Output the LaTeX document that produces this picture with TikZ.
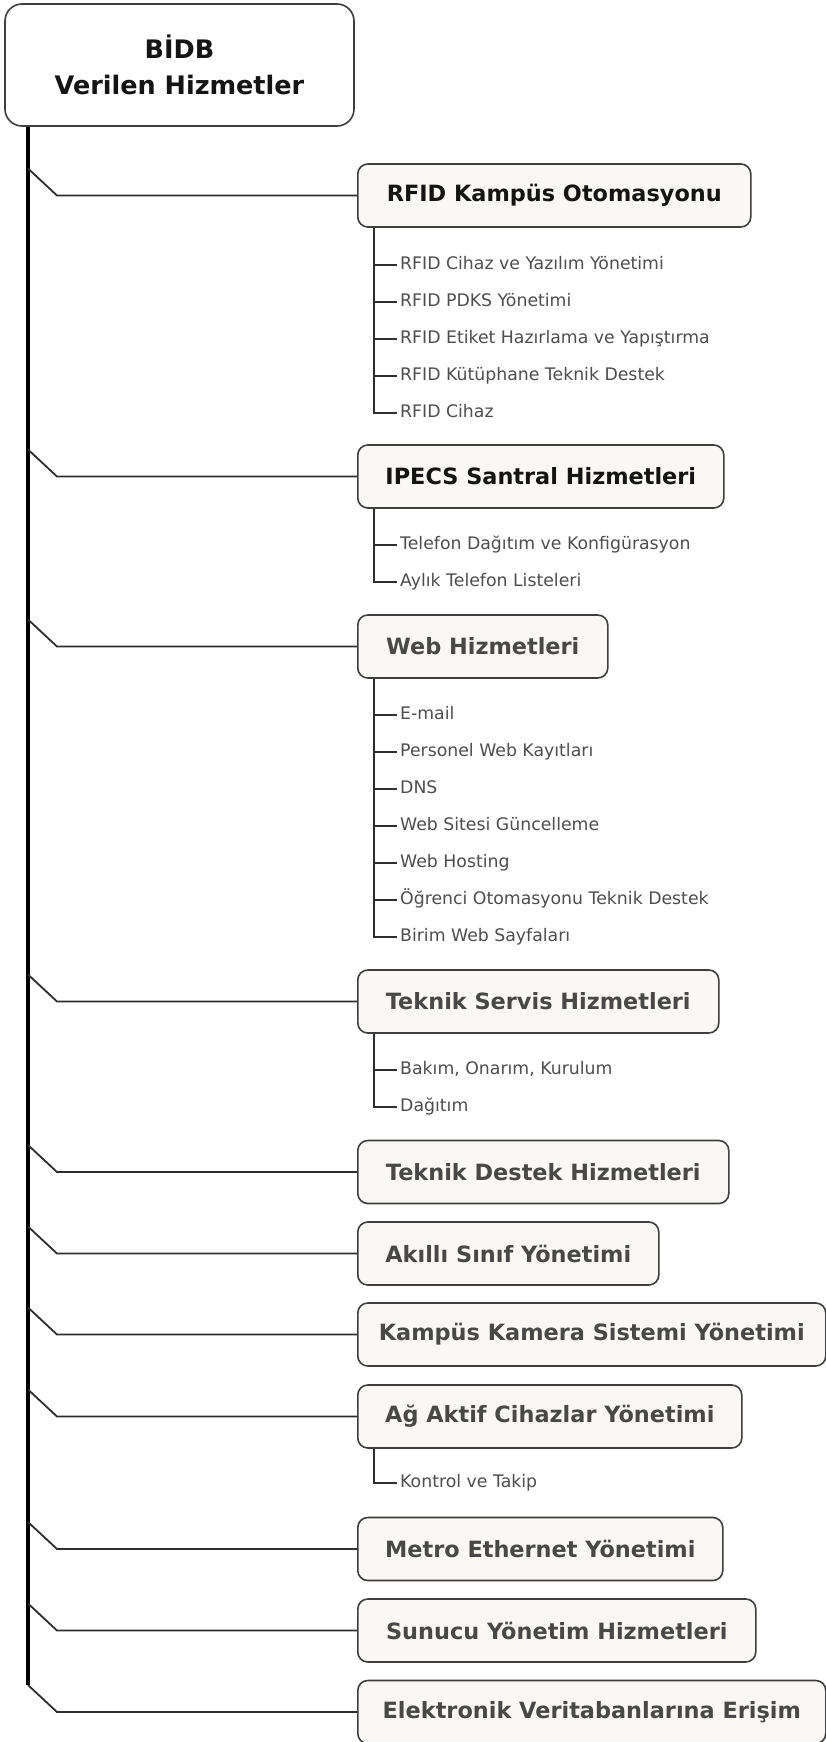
\documentclass[tikz,border=0pt]{standalone}
\usepackage{fontspec}
\setmainfont{DejaVu Sans}
\definecolor{boxfill}{HTML}{F9F8F4}
\definecolor{boxline}{HTML}{3E3E3E}
\definecolor{linegray}{HTML}{2E2E2E}
\definecolor{boxtext}{HTML}{484848}
\definecolor{darktext}{HTML}{141414}
\definecolor{leaftext}{HTML}{4D4D4D}
\tikzset{
  box/.style={draw=boxline, line width=1.6pt, fill=boxfill, rounded corners=10pt,
    minimum height=63pt, inner sep=0pt, anchor=west,
    font=\fontsize{22.4}{26}\selectfont\bfseries, text=boxtext},
  darkbox/.style={box, text=darktext},
  leaf/.style={anchor=west, inner sep=0pt, text height=12.5pt, text depth=3.3pt,
    font=\fontsize{17.3}{20}\selectfont, text=leaftext},
  trunk/.style={line width=3.6pt, draw=black},
  branch/.style={line width=1.8pt, draw=linegray, line join=miter},
  sub/.style={line width=1.5pt, draw=linegray},
}
\begin{document}
\begin{tikzpicture}[x=1pt,y=-1pt]
\useasboundingbox (0,0) rectangle (826,1742);

% root
\node[draw=boxline, line width=1.6pt, rounded corners=17pt, minimum width=349pt,
  minimum height=122pt, fill=white, align=center,
  font=\fontsize{25.5}{37}\selectfont\bfseries, text=darktext] (root) at (179.5,65)
  {BİDB\\[-1pt]Verilen Hizmetler};

% main boxes
\node[darkbox, minimum width=393pt] (b1) at (357,195.5) {RFID Kampüs Otomasyonu};
\node[darkbox, minimum width=366pt] (b2) at (357,476.5) {IPECS Santral Hizmetleri};
\node[box, minimum width=250pt] (b3) at (357,646.5) {Web Hizmetleri};
\node[box, minimum width=361pt] (b4) at (357,1001.5) {Teknik Servis Hizmetleri};
\node[box, minimum width=371pt] (b5) at (357,1172) {Teknik Destek Hizmetleri};
\node[box, minimum width=301pt] (b6) at (357,1253.5) {Akıllı Sınıf Yönetimi};
\node[box, minimum width=468pt] (b7) at (357,1334.5) {Kampüs Kamera Sistemi Yönetimi};
\node[box, minimum width=384pt] (b8) at (357,1416.5) {Ağ Aktif Cihazlar Yönetimi};
\node[box, minimum width=365pt] (b9) at (357,1549) {Metro Ethernet Yönetimi};
\node[box, minimum width=398pt] (b10) at (357,1630.5) {Sunucu Yönetim Hizmetleri};
\node[box, minimum width=468pt] (b11) at (357,1712) {Elektronik Veritabanlarına Erişim};

% leaves
\node[leaf] (l11) at (400,265) {RFID Cihaz ve Yazılım Yönetimi};
\node[leaf] (l12) at (400,302) {RFID PDKS Yönetimi};
\node[leaf] (l13) at (400,339) {RFID Etiket Hazırlama ve Yapıştırma};
\node[leaf] (l14) at (400,376) {RFID Kütüphane Teknik Destek};
\node[leaf] (l15) at (400,413) {RFID Cihaz};

\node[leaf] (l21) at (400,545) {Telefon Dağıtım ve Konfigürasyon};
\node[leaf] (l22) at (400,582) {Aylık Telefon Listeleri};

\node[leaf] (l31) at (400,715) {E-mail};
\node[leaf] (l32) at (400,752) {Personel Web Kayıtları};
\node[leaf] (l33) at (400,789) {DNS};
\node[leaf] (l34) at (400,826) {Web Sitesi Güncelleme};
\node[leaf] (l35) at (400,863) {Web Hosting};
\node[leaf] (l36) at (400,900) {Öğrenci Otomasyonu Teknik Destek};
\node[leaf] (l37) at (400,937) {Birim Web Sayfaları};

\node[leaf] (l41) at (400,1070) {Bakım, Onarım, Kurulum};
\node[leaf] (l42) at (400,1107) {Dağıtım};

\node[leaf] (l81) at (400,1483) {Kontrol ve Takip};

% trunk
\coordinate (tend) at (28,1685);
\draw[trunk] (root.south -| tend) -- (tend);

% branches
\foreach \b/\c in {b1/195.5, b2/476.5, b3/646.5, b4/1001.5, b5/1172, b6/1253.5,
                   b7/1334.5, b8/1416.5, b9/1549, b10/1630.5, b11/1712} {
  \coordinate (t\b) at (28,\c-27);
  \draw[branch] (t\b) -- ++(29,27) -- (\b.west);
}

% sub trees (ticks end 3pt before the text)
\draw[sub] ([xshift=17pt]b1.south west) |- ([xshift=-3pt]l15.west);
\foreach \l in {l11,l12,l13,l14} { \draw[sub] ([xshift=-3pt]\l.west) -- ++(-23,0); }

\draw[sub] ([xshift=17pt]b2.south west) |- ([xshift=-3pt]l22.west);
\draw[sub] ([xshift=-3pt]l21.west) -- ++(-23,0);

\draw[sub] ([xshift=17pt]b3.south west) |- ([xshift=-3pt]l37.west);
\foreach \l in {l31,l32,l33,l34,l35,l36} { \draw[sub] ([xshift=-3pt]\l.west) -- ++(-23,0); }

\draw[sub] ([xshift=17pt]b4.south west) |- ([xshift=-3pt]l42.west);
\draw[sub] ([xshift=-3pt]l41.west) -- ++(-23,0);

\draw[sub] ([xshift=17pt]b8.south west) |- ([xshift=-3pt]l81.west);
\end{tikzpicture}
\end{document}
